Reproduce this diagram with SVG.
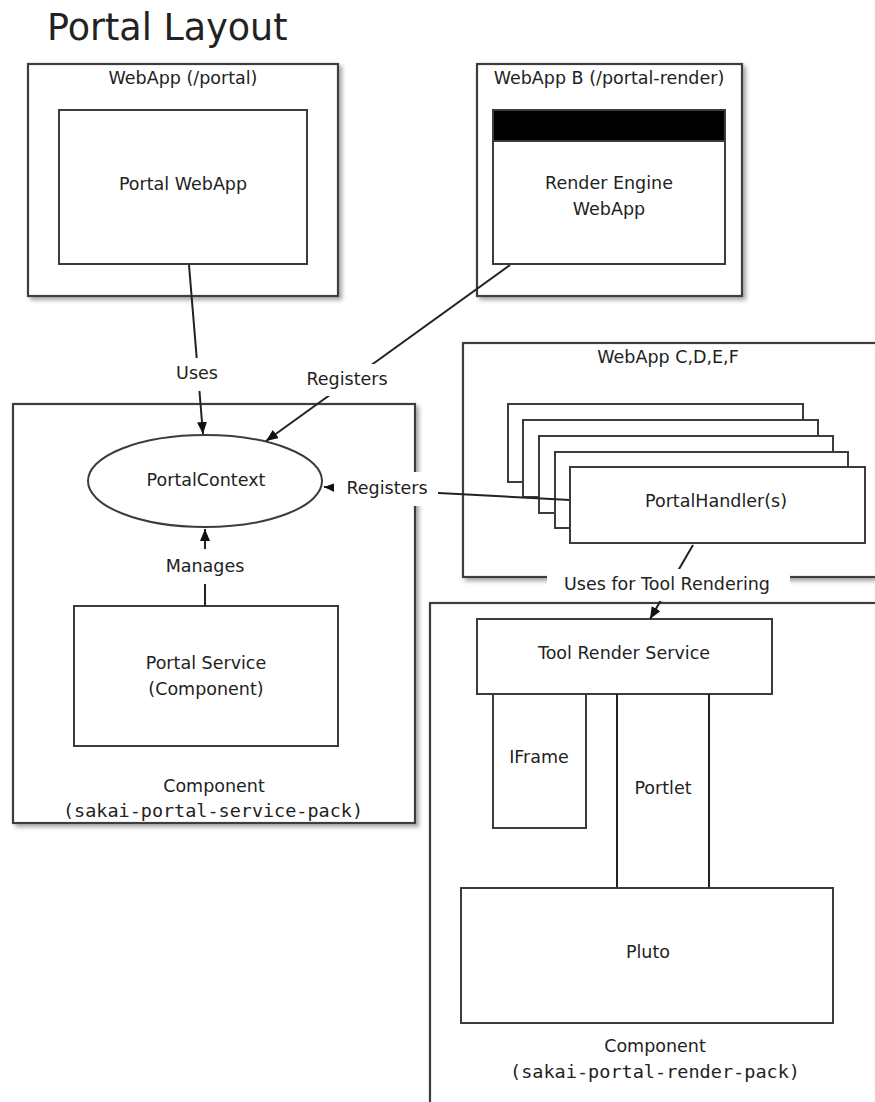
<svg xmlns="http://www.w3.org/2000/svg" width="875" height="1102" viewBox="0 0 875 1102">
<defs>
<filter id="sh" x="-5%" y="-5%" width="115%" height="115%">
<feDropShadow dx="3" dy="3" stdDeviation="2" flood-color="#000" flood-opacity="0.35"/>
</filter>
<marker id="ah" markerUnits="userSpaceOnUse" markerWidth="14" markerHeight="10" refX="12" refY="5" orient="auto">
<path d="M0,0 L12,5 L0,10 z" fill="#111"/>
</marker>
<style>
.box{fill:#fff;stroke:#3c3c3c;stroke-width:2}
.outer{fill:#fff;stroke:#3c3c3c;stroke-width:2.2;filter:url(#sh)}
.t{font-family:"DejaVu Sans",sans-serif;font-size:17.5px;fill:#222;text-anchor:middle}
.m{font-family:"DejaVu Sans Mono","Liberation Mono",monospace;font-size:18px;fill:#222;text-anchor:middle}
.c{fill:none;stroke:#222;stroke-width:2}
.bg{fill:#fff}
</style>
</defs>
<rect width="875" height="1102" fill="#fff"/>
<text x="47" y="40" style="font-family:'DejaVu Sans',sans-serif;font-size:36.5px;fill:#222">Portal Layout</text>

<g id="webapp-portal">
<rect class="outer" x="28" y="64" width="310" height="232"/>
<text class="t" x="183" y="84">WebApp (/portal)</text>
<rect class="box" x="59" y="110" width="248" height="154"/>
<text class="t" x="183" y="190">Portal WebApp</text>
</g>

<g id="webapp-b">
<rect class="outer" x="477" y="64" width="265" height="232"/>
<text class="t" x="609" y="84">WebApp B (/portal-render)</text>
<rect class="box" x="493" y="110" width="232" height="154"/>
<rect x="493" y="110" width="232" height="31" fill="#000" stroke="#3c3c3c" stroke-width="2"/>
<text class="t" x="609" y="189">Render Engine</text>
<text class="t" x="609" y="215">WebApp</text>
</g>

<g id="component-service">
<rect class="outer" x="13" y="404" width="402" height="419"/>
<ellipse class="box" cx="205" cy="481" rx="117" ry="46"/>
<text class="t" x="206" y="486">PortalContext</text>
<rect class="box" x="74" y="606" width="264" height="140"/>
<text class="t" x="206" y="669">Portal Service</text>
<text class="t" x="206" y="695">(Component)</text>
<text class="t" x="214" y="792">Component</text>
<text class="m" x="213" y="817" textLength="300" lengthAdjust="spacingAndGlyphs">(sakai-portal-service-pack)</text>
</g>

<g id="webapp-cdef">
<rect class="outer" x="463" y="343" width="430" height="234"/>
<text class="t" x="668" y="363">WebApp C,D,E,F</text>
<rect class="box" x="508" y="404" width="295" height="78"/>
<rect class="box" x="523" y="420" width="295" height="77"/>
<rect class="box" x="539" y="436" width="294" height="77"/>
<rect class="box" x="555" y="452" width="293" height="76"/>
</g>

<g id="component-render">
<rect class="outer" x="430" y="603" width="470" height="520"/>
<rect class="box" x="477" y="619" width="295" height="75"/>
<text class="t" x="624" y="659">Tool Render Service</text>
<rect class="box" x="493" y="694" width="93" height="134"/>
<text class="t" x="539" y="763">IFrame</text>
<line class="c" x1="617" y1="694" x2="617" y2="888" stroke="#3c3c3c"/>
<line class="c" x1="709" y1="694" x2="709" y2="888" stroke="#3c3c3c"/>
<text class="t" x="663" y="794">Portlet</text>
<rect class="box" x="461" y="888" width="372" height="135"/>
<text class="t" x="648" y="958">Pluto</text>
<text class="t" x="655" y="1052">Component</text>
<text class="m" x="655" y="1078" textLength="290" lengthAdjust="spacingAndGlyphs">(sakai-portal-render-pack)</text>
</g>

<g id="connectors">
<line class="c" x1="189" y1="265" x2="203" y2="434" marker-end="url(#ah)"/>
<line class="c" x1="510" y1="265" x2="266" y2="441" marker-end="url(#ah)"/>
<line class="c" x1="570" y1="500" x2="324" y2="487" marker-end="url(#ah)"/>
<line class="c" x1="205" y1="606" x2="205" y2="529" marker-end="url(#ah)"/>
<line class="c" x1="693" y1="545" x2="650" y2="619" marker-end="url(#ah)"/>
</g>

<g id="portal-handlers">
<rect class="box" x="570" y="467" width="295" height="76"/>
<text class="t" x="716" y="507">PortalHandler(s)</text>
</g>

<g id="labels">
<rect class="bg" x="176" y="358" width="42" height="33"/>
<text class="t" x="197" y="379">Uses</text>
<rect class="bg" x="302" y="364" width="92" height="32"/>
<text class="t" x="347" y="385">Registers</text>
<rect class="bg" x="334" y="472" width="104" height="34"/>
<text class="t" x="387" y="494">Registers</text>
<rect class="bg" x="160" y="549" width="90" height="35"/>
<text class="t" x="205" y="572">Manages</text>
<rect class="bg" x="547" y="569" width="243" height="32"/>
<text class="t" x="667" y="590">Uses for Tool Rendering</text>
</g>
</svg>
